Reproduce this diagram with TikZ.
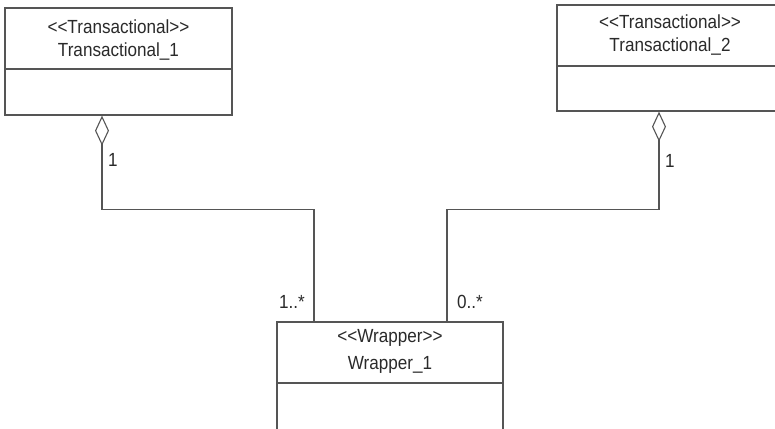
\documentclass[tikz,border=0pt]{standalone}
\usepackage{fontspec}
\setmainfont{Liberation Sans}[FakeStretch=0.9, Ligatures=NoCommon]
\usetikzlibrary{arrows.meta}
\definecolor{lc}{HTML}{555555}
\definecolor{tc}{HTML}{2A2A2A}
\tikzset{
  cls/.style={draw=lc, line width=1.3pt, fill=white, inner sep=0pt},
  lbl/.style={text=tc, font=\fontsize{19}{22}\selectfont, inner sep=0pt},
  assoc/.style={draw=lc, line width=1.2pt},
  divider/.style={draw=lc, line width=1.3pt},
  agg/.style={assoc, {Diamond[open, length=30pt, width=14pt, line width=1.1pt]}-},
}
\newcommand{\stereo}[1]{{<}{<}#1{>}{>}}
\begin{document}
\begin{tikzpicture}[x=1pt,y=1pt]
\useasboundingbox (0,0) rectangle (775,-428);
\clip (0,0) rectangle (775,-428);
\fill[white] (0,0) rectangle (775,-428);
% class boxes
\node[cls, minimum width=227pt, minimum height=107pt] (b1) at (118.5,-61.5) {};
\node[cls, minimum width=250pt, minimum height=106pt] (b2) at (682,-58) {};
\node[cls, minimum width=226pt, minimum height=120pt] (w) at (390,-382) {};
% dividers
\draw[divider] (b1.west |- 0,-69) -- (b1.east |- 0,-69);
\draw[divider] (b2.west |- 0,-66) -- (b2.east |- 0,-66);
\draw[divider] (w.west |- 0,-383) -- (w.east |- 0,-383);
% texts
\node[lbl] (b1s) at (118.5,-27) {\stereo{Transactional}};
\node[lbl] (b1n) at (118.5,-52) {Transactional\_1};
\node[lbl] (b2s) at (670,-22) {\stereo{Transactional}};
\node[lbl] (b2n) at (670,-47) {Transactional\_2};
\node[lbl] (ws) at (390,-338) {\stereo{Wrapper}};
\node[lbl] (wn) at (390,-365) {Wrapper\_1};
% connectors
\draw[agg] (b1.south -| 102,0) -- ++(0,-94) -| (w.north -| 314,0);
\draw[agg] (b2.south -| 659,0) -- ++(0,-98) -| (w.north -| 447,0);
% multiplicities
\node[lbl, anchor=west] (m1) at (108,-160) {1};
\node[lbl, anchor=west] (m2) at (665,-161) {1};
\node[lbl] (m3) at (292,-302) {1..*};
\node[lbl] (m4) at (470,-302) {0..*};
\end{tikzpicture}
\end{document}
